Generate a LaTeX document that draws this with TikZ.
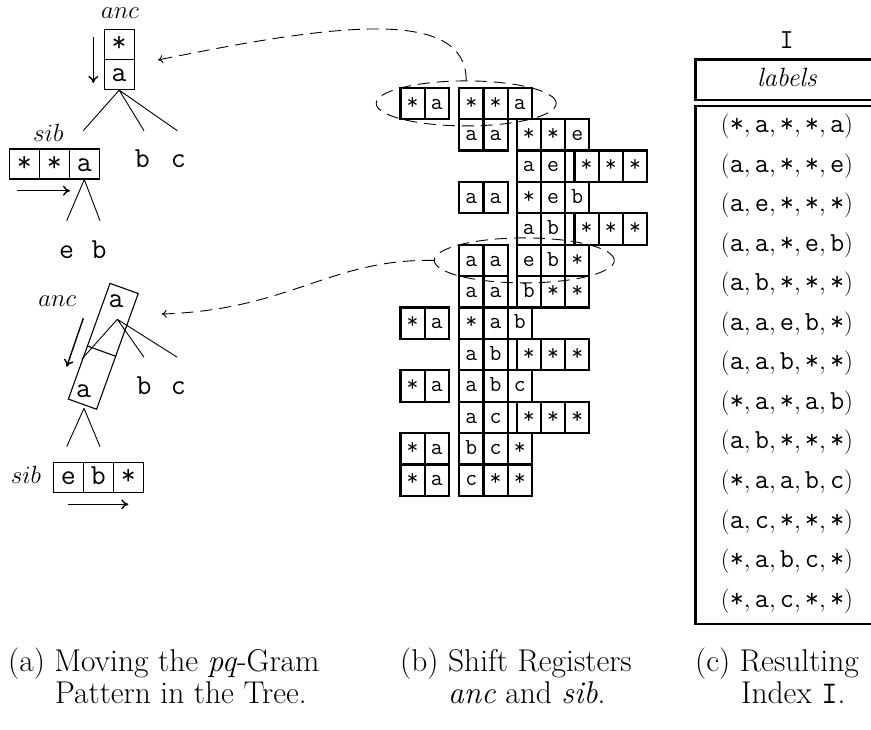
\documentclass[tikz,border=0pt]{standalone}
\usetikzlibrary{arrows.meta,shapes.geometric,calc}
\newcommand{\tup}[5]{$(\texttt{#1},\texttt{#2},\texttt{#3},\texttt{#4},\texttt{#5})$}
\newcommand{\regrow}[4]{%
  \foreach \lbl [count=\i from 0] in {#4} {%
    \node[regcell] (#1-\i) at ({#2+12.1+24.2*\i},{103.4+31.4*(#3-1)}) {\lbl};%
  }%
}
\begin{document}
\begin{tikzpicture}[x=1pt,y=-1pt,
  ttree/.style={font=\fontsize{29}{34}\selectfont\ttfamily},
  tcell/.style={ttree, draw, line width=1.1pt, minimum width=30pt, minimum height=30pt, inner sep=0pt, text height=17.5pt, text depth=3pt},
  ttxt/.style={ttree, inner sep=0pt, anchor=base},
  lab/.style={font=\fontsize{23}{28}\selectfont, inner sep=0pt, anchor=base},
  regcell/.style={font=\fontsize{23}{28}\selectfont\ttfamily, draw, line width=2.1pt, minimum width=24.2pt, minimum height=31.4pt, inner sep=0pt, text height=13.9pt, text depth=2.5pt},
  tedge/.style={line width=0.9pt},
  mv/.style={line width=1.4pt, -{Computer Modern Rightarrow[length=7pt,width=10pt]}},
  dl/.style={line width=0.9pt, dash pattern=on 12pt off 7pt},
  da/.style={dl, -{Computer Modern Rightarrow[length=5pt,width=8pt]}},
  ell/.style={dl, ellipse, draw, minimum width=180pt, minimum height=45pt, inner sep=0pt},
  tbl/.style={line width=2.5pt},
  tuprow/.style={font=\fontsize{27.5}{33}\selectfont, inner sep=0pt, anchor=base},
  captext/.style={font=\fontsize{31.5}{33}\selectfont, inner sep=0pt, anchor=base west}
]
\useasboundingbox (0,0) rectangle (871,729);
\clip (0,0) rectangle (871,729);

% ---------- (a) top tree ----------
\node[lab] (lanc1) at (120,18.3) {$anc$};
\node[tcell] (ta1) at (119.2,44.6) {*};
\node[tcell] (ta2) at (119.2,74.6) {a};
\coordinate (tu1) at (93.3,37);
\coordinate (tu2) at (93.3,83);
\draw[mv] (tu1) -- (tu2);
\coordinate (te1) at (83.3,130.7);
\coordinate (te2) at (144,130.7);
\coordinate (te3) at (177.3,130.7);
\draw[tedge] (ta2.south) -- (te1) (ta2.south) -- (te2) (ta2.south) -- (te3);
\node[lab] (lsib1) at (48.3,141.7) {$sib$};
\node[tcell] (ts1) at (24.3,164) {*};
\node[tcell] (ts2) at (54.3,164) {*};
\node[tcell] (ts3) at (84.3,164) {a};
\node[ttxt] (tb) at (142.3,167.3) {b};
\node[ttxt] (tc) at (178.3,167.3) {c};
\coordinate (sa1) at (16.7,190.7);
\coordinate (sa2) at (70,190.7);
\draw[mv] (sa1) -- (sa2);
\coordinate (tf1) at (66.7,220.7);
\coordinate (tf2) at (100,220.7);
\draw[tedge] (ts3.south) -- (tf1) (ts3.south) -- (tf2);
\node[ttxt] (te) at (66.7,258) {e};
\node[ttxt] (tb2) at (99,258) {b};

% ---------- (a) bottom tree ----------
\node[lab] (lanc2) at (57.2,306.7) {$anc$};
\node[draw, line width=1.1pt, minimum width=30pt, minimum height=123pt, inner sep=0pt, rotate=-19.8] (rbox) at (103.3,346.3) {};
\draw[line width=1.1pt] ($(rbox.west)!0.083!(rbox.south west)$) -- ($(rbox.east)!0.083!(rbox.south east)$);
\node[ttxt] (ra1) at (116,307.3) {a};
\node[ttxt] (ra2) at (83.7,397.3) {a};
\coordinate (rr) at (117.3,319.3);
\coordinate (rg1) at (81.7,359.3);
\coordinate (rg2) at (144,357.3);
\coordinate (rg3) at (177.3,357.3);
\draw[tedge] (rr) -- (rg1) (rr) -- (rg2) (rr) -- (rg3);
\node[ttxt] (rb) at (144,394) {b};
\node[ttxt] (rc) at (178.3,394) {c};
\coordinate (ar1) at (83.3,318.3);
\coordinate (ar2) at (66.7,366.7);
\draw[mv] (ar1) -- (ar2);
\coordinate (rl) at (84,408.3);
\coordinate (rh1) at (66.7,446.7);
\coordinate (rh2) at (100,446.7);
\draw[tedge] (rl) -- (rh1) (rl) -- (rh2);
\node[lab] (lsib2) at (26,483.3) {$sib$};
\node[tcell] (bs1) at (68.3,477.2) {e};
\node[tcell] (bs2) at (98.3,477.2) {b};
\node[tcell] (bs3) at (128.3,477.2) {*};
\coordinate (sb1) at (68.3,504.3);
\coordinate (sb2) at (128.3,504.3);
\draw[mv] (sb1) -- (sb2);

% ---------- (b) shift registers ----------
\regrow{r1a}{400.5}{1}{*,a}
\regrow{r1b}{459.3}{1}{*,*,a}
\regrow{r2b}{459.3}{2}{a,a}
\regrow{r2c}{516.7}{2}{*,*,e}
\regrow{r3c}{516.7}{3}{a,e}
\regrow{r3d}{574.5}{3}{*,*,*}
\regrow{r4b}{459.3}{4}{a,a}
\regrow{r4c}{516.7}{4}{*,e,b}
\regrow{r5c}{516.7}{5}{a,b}
\regrow{r5d}{574.5}{5}{*,*,*}
\regrow{r6b}{459.3}{6}{a,a}
\regrow{r6c}{516.7}{6}{e,b,*}
\regrow{r7b}{459.3}{7}{a,a}
\regrow{r7c}{516.7}{7}{b,*,*}
\regrow{r8a}{400.5}{8}{*,a}
\regrow{r8b}{459.3}{8}{*,a,b}
\regrow{r9b}{459.3}{9}{a,b}
\regrow{r9c}{516.7}{9}{*,*,*}
\regrow{r10a}{400.5}{10}{*,a}
\regrow{r10b}{459.3}{10}{a,b,c}
\regrow{r11b}{459.3}{11}{a,c}
\regrow{r11c}{516.7}{11}{*,*,*}
\regrow{r12a}{400.5}{12}{*,a}
\regrow{r12b}{459.3}{12}{b,c,*}
\regrow{r13a}{400.5}{13}{*,a}
\regrow{r13b}{459.3}{13}{c,*,*}

\node[ell] (E1) at (466.2,103.4) {};
\node[ell] (E2) at (524.3,260.4) {};
\coordinate (T1) at (158,60);
\coordinate (T2) at (161.7,314);
\draw[da] (E1.north) .. controls +(0,-75) and +(172,-35) .. (T1);
\draw[da] (E2.west) .. controls +(-103,-2) and +(128,-4) .. (T2);

% ---------- (c) index ----------
\node[font=\fontsize{27.5}{33}\selectfont\ttfamily, inner sep=0pt, anchor=base] (idx) at (786.7,48.4) {I};
\draw[tbl] (695.7,59.3) rectangle (880,100);
\node[font=\fontsize{26.5}{32}\selectfont, inner sep=0pt, anchor=base] (hd) at (787,86.7) {\textit{labels}};
\draw[tbl] (695.7,106) rectangle (880,624);
\node[tuprow] (L1)  at (787,132.5) {\tup{*}{a}{*}{*}{a}};
\node[tuprow] (L2)  at (787,172.05) {\tup{a}{a}{*}{*}{e}};
\node[tuprow] (L3)  at (787,211.6) {\tup{a}{e}{*}{*}{*}};
\node[tuprow] (L4)  at (787,251.15) {\tup{a}{a}{*}{e}{b}};
\node[tuprow] (L5)  at (787,290.7) {\tup{a}{b}{*}{*}{*}};
\node[tuprow] (L6)  at (787,330.25) {\tup{a}{a}{e}{b}{*}};
\node[tuprow] (L7)  at (787,369.8) {\tup{a}{a}{b}{*}{*}};
\node[tuprow] (L8)  at (787,409.35) {\tup{*}{a}{*}{a}{b}};
\node[tuprow] (L9)  at (787,448.9) {\tup{a}{b}{*}{*}{*}};
\node[tuprow] (L10) at (787,488.45) {\tup{*}{a}{a}{b}{c}};
\node[tuprow] (L11) at (787,528) {\tup{a}{c}{*}{*}{*}};
\node[tuprow] (L12) at (787,567.55) {\tup{*}{a}{b}{c}{*}};
\node[tuprow] (L13) at (787,607.1) {\tup{*}{a}{c}{*}{*}};

% ---------- captions ----------
\node[captext] (ca1) at (8,671) {(a) Moving the \emph{pq}-Gram};
\node[captext] (ca2) at (55,703) {Pattern in the Tree.};
\node[captext] (cb1) at (400,671) {(b) Shift Registers};
\node[captext] (cb2) at (448,703) {\textit{anc} and \textit{sib}.};
\node[captext] (cc1) at (695,671) {(c) Resulting};
\node[captext] (cc2) at (741,703) {Index \texttt{I}.};
\end{tikzpicture}
\end{document}
